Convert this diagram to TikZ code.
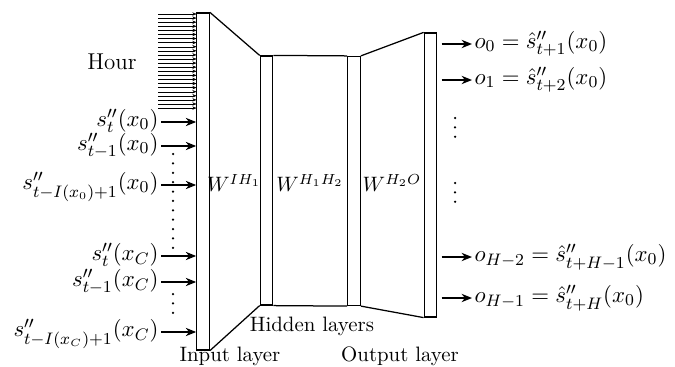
\documentclass[tikz,border=0pt]{standalone}
\usepackage{amsmath,amssymb}
\usepackage{tikz}
\usetikzlibrary{arrows.meta,positioning,calc}

\begin{document}
\begin{tikzpicture}[x=0.48pt,y=-0.48pt,
          bar/.style={draw, semithick, inner sep=0pt, minimum width=6pt},
          link/.style={semithick},
          sig/.style={inner sep=1pt, font=\fontsize{11}{13}\selectfont},
          inarrow/.style={semithick, -{Stealth[length=5pt,width=4pt]}},
          hourarrow/.style={very thin, -{Stealth[length=2pt,width=1.6pt]}},
          vdots/.style={line width=1.2pt, line cap=round, dash pattern=on 0pt off 4.5pt}
        ]
          \useasboundingbox (0,0) rectangle (675,367);

          % Schichten
          \node[bar, minimum height=161.8pt] (inlayer) at (203,181.5) {};
          \node[bar, minimum height=119.5pt] (hid1) at (266.5,180.5) {};
          \node[bar, minimum height=119.5pt] (hid2) at (354,181) {};
          \node[bar, minimum height=136.3pt] (outlayer) at (430.5,175) {};

          % Gewichte
          \draw[link] (inlayer.north east) -- (hid1.north west);
          \draw[link] (inlayer.south east) -- (hid1.south west);
          \draw[link] (hid1.north east) -- (hid2.north west);
          \draw[link] (hid1.south east) -- (hid2.south west);
          \draw[link] (hid2.north east) -- (outlayer.north west);
          \draw[link] (hid2.south east) -- (outlayer.south west);
          \node (w1) at (234,183) {$W^{IH_1}$};
          \node (w2) at (310,183) {$W^{H_1H_2}$};
          \node (w3) at (392,183) {$W^{H_2O}$};

          % Beschriftung der Schichten
          \node (inname) at (230,356) {Input layer};
          \node (hidname) at (312,326) {Hidden layers};
          \node (outname) at (400,356) {Output layer};

          % Stunde
          \node[sig] (hour) at (112,62) {Hour};
          \foreach \i in {0,...,23}
            \draw[hourarrow] (158,14+\i*4.09) -- (196.5,14+\i*4.09);

          % Eingaben
          \node[sig, anchor=mid east] (in1) at (161,122) {$s''_t(x_0)$};
          \node[sig, anchor=mid east] (in2) at (161,146) {$s''_{t-1}(x_0)$};
          \node[sig, anchor=mid east] (in3) at (161,185) {$s''_{t-I(x_0)+1}(x_0)$};
          \node[sig, anchor=mid east] (in4) at (161,256) {$s''_t(x_C)$};
          \node[sig, anchor=mid east] (in5) at (161,282) {$s''_{t-1}(x_C)$};
          \node[sig, anchor=mid east] (in6) at (161,332) {$s''_{t-I(x_C)+1}(x_C)$};
          \foreach \n in {in1,in2,in3,in4,in5,in6}
            \draw[inarrow] (\n.mid east) -- (\n.mid east -| inlayer.west);

          \coordinate (dA) at (173,154);
          \coordinate (dB) at (173,248);
          \coordinate (dC) at (173,294);
          \coordinate (dD) at (173,318);
          \draw[vdots] (dA) -- (dB);
          \draw[vdots] (dC) -- (dD);

          % Ausgaben
          \node[sig, anchor=mid west] (out1) at (472,44) {$o_0=\hat{s}''_{t+1}(x_0)$};
          \node[sig, anchor=mid west] (out2) at (472,80) {$o_1=\hat{s}''_{t+2}(x_0)$};
          \node[sig, anchor=mid west] (out3) at (472,257) {$o_{H-2}=\hat{s}''_{t+H-1}(x_0)$};
          \node[sig, anchor=mid west] (out4) at (472,298) {$o_{H-1}=\hat{s}''_{t+H}(x_0)$};
          \foreach \n in {out1,out2,out3,out4}
            \draw[inarrow, shorten <=2pt] (\n.mid west -| outlayer.east) -- (\n.mid west);

          \coordinate (eA) at (455,118);
          \coordinate (eB) at (455,141);
          \coordinate (eC) at (455,183);
          \coordinate (eD) at (455,206);
          \draw[vdots] (eA) -- (eB);
          \draw[vdots] (eC) -- (eD);
        \end{tikzpicture}
\end{document}
